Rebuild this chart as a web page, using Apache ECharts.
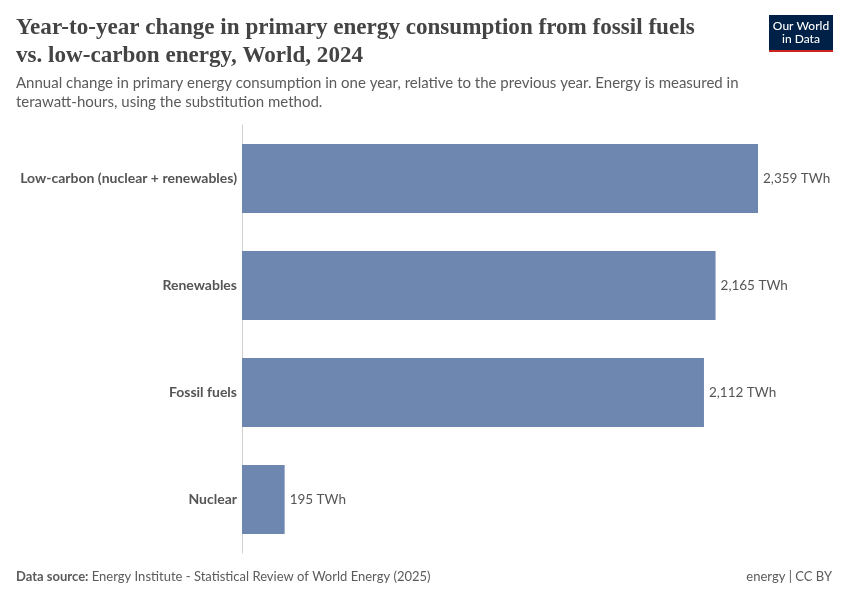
<!DOCTYPE html>
<html><head><meta charset="utf-8">
<script src="https://cdn.jsdelivr.net/npm/echarts@6/dist/echarts.min.js"></script>
<style>html,body{margin:0;padding:0;background:#fff}#c{width:850px;height:600px}</style>
</head><body><div id="c"></div>
<script>
const categories = ["Low-carbon (nuclear + renewables)", "Renewables", "Fossil fuels", "Nuclear"];
const values = [2359, 2165, 2112, 195];
const unit = " TWh";

const chart = echarts.init(document.getElementById('c'), null, {renderer: 'canvas'});
chart.setOption({
  backgroundColor: '#fff',
  animation: false,
  title: [
    {text: 'Year-to-year change in primary energy consumption from fossil fuels\nvs. low-carbon energy, World, 2024', left: 16, top: 14, padding: 0,
     textStyle: {fontFamily: 'Liberation Serif', fontWeight: 'bold', fontSize: 23.1, color: '#444', lineHeight: 28}},
    {text: 'Annual change in primary energy consumption in one year, relative to the previous year. Energy is measured in\nterawatt-hours, using the substitution method.', left: 16, top: 74, padding: 0,
     textStyle: {fontFamily: 'Lato', fontWeight: 'normal', fontSize: 15, color: '#5b5b5b', lineHeight: 19}},
  ],
  graphic: [
    {type: 'rect', left: 769, top: 15, shape: {width: 64, height: 35}, style: {fill: '#002147'}},
    {type: 'rect', left: 769, top: 50, shape: {width: 64, height: 2}, style: {fill: '#ce261e'}},
    {type: 'text', x: 801, y: 32.5, style: {text: 'Our World\nin Data', fill: '#fff', font: '500 12px Lato', align: 'center', verticalAlign: 'middle', lineHeight: 13.5}},
    {type: 'text', left: 16, top: 570, style: {text: '{b|Data source:} Energy Institute - Statistical Review of World Energy (2025)', font: '13px Lato', fill: '#5b5b5b',
      rich: {b: {fontFamily: 'Lato', fontSize: 13, fontWeight: 'bold', fill: '#5b5b5b'}}}},
    {type: 'text', right: 18, top: 570, style: {text: 'energy | CC BY', font: '13px Lato', fill: '#5b5b5b'}}
  ],
  grid: {left: 242, right: 92, top: 125, bottom: 47, containLabel: false},
  xAxis: {type: 'value', min: 0, max: 2359, show: false},
  yAxis: {type: 'category', data: categories, inverse: true,
    axisLine: {show: true, lineStyle: {color: '#d0d0d0'}}, axisTick: {show: false},
    axisLabel: {fontFamily: 'Lato', fontWeight: 'bold', fontSize: 14, color: '#555', margin: 5}},
  series: [{
    type: 'bar', data: values, barCategoryGap: '35.5%',
    itemStyle: {color: '#6d87b1'},
    label: {show: true, position: 'right', distance: 5, fontFamily: 'Lato', fontSize: 13.5, color: '#555',
      formatter: p => p.value.toLocaleString('en-US') + unit}
  }]
});
</script></body></html>
